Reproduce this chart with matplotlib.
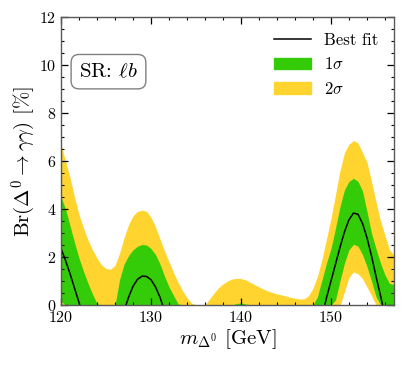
import numpy as np
import matplotlib
matplotlib.use("Agg")
import matplotlib.pyplot as plt
from matplotlib.ticker import MultipleLocator
from matplotlib.lines import Line2D
from matplotlib.patches import Patch

plt.rcParams.update({
    "font.family": "serif",
    "font.serif": ["cmr10", "DejaVu Serif"],
    "mathtext.fontset": "cm",
    "axes.unicode_minus": False,
    "axes.formatter.use_mathtext": True,
})

# mass grid (GeV)
mass = np.arange(120.0, 157.01, 0.5)

# upper 2 sigma
hi2 = [6.7, 6.0, 5.3, 4.5, 3.75, 3.2, 2.7, 2.3, 1.95, 1.67,
       1.52, 1.49, 1.65, 2.15, 2.8, 3.35, 3.72, 3.9, 3.95, 3.9,
       3.65, 3.25, 2.75, 2.25, 1.8, 1.35, 0.95, 0.6, 0.3, 0.08,
       0.0, 0.0, 0.0, 0.25, 0.5, 0.72, 0.88, 1.0, 1.08, 1.11,
       1.1, 1.05, 0.95, 0.85, 0.75, 0.66, 0.58, 0.52, 0.46, 0.42,
       0.37, 0.32, 0.28, 0.25, 0.26, 0.38, 0.7, 1.2, 1.9, 2.75,
       3.6, 4.6, 5.6, 6.35, 6.7, 6.85, 6.75, 6.35, 5.95, 5.15,
       4.3, 3.5, 2.9, 2.3, 2.08]
# lower 2 sigma
lo2 = [0.0] * 62 + [0.0, 0.55, 1.15, 1.38, 1.3, 1.1, 0.75, 0.4, 0.0,
                    0.0, 0.0, 0.0, 0.0]
# upper 1 sigma
hi1 = [4.5, 4.0, 3.3, 2.6, 1.95, 1.4, 0.9, 0.45, 0.05, 0.0,
       0.0, 0.0, 0.0, 1.05, 1.7, 2.05, 2.3, 2.45, 2.52, 2.5,
       2.35, 2.1, 1.7, 1.2, 0.75, 0.4, 0.05, 0.0, 0.0, 0.0,
       0.0, 0.0, 0.0, 0.0, 0.0, 0.0, 0.0, 0.0, 0.0, 0.06,
       0.09, 0.04, 0.0, 0.0, 0.0, 0.0, 0.0, 0.0, 0.0, 0.0,
       0.0, 0.0, 0.0, 0.0, 0.0, 0.0, 0.0, 0.35, 1.05, 1.74,
       2.35, 3.2, 4.1, 4.8, 5.15, 5.28, 5.15, 4.75, 3.9, 3.0,
       2.35, 1.75, 1.25, 0.9, 0.85]
# lower 1 sigma
lo1 = [0.15] + [0.0] * 60 + [0.2, 1.0, 1.75, 2.3, 2.53, 2.45, 2.1, 1.6, 1.0,
                             0.35, 0.0, 0.0, 0.0, 0.0]
# best fit (nan where far below the axis)
nan = np.nan
best = [2.35, 1.85, 1.3, 0.7, 0.1, -0.55, nan, nan, nan, nan,
        nan, nan, nan, nan, -0.25, 0.32, 0.78, 1.07, 1.2, 1.19,
        1.05, 0.75, 0.32, -0.25, nan, nan, nan, nan, nan, nan,
        nan, nan, nan, nan, nan, nan, nan, nan, nan, nan,
        nan, nan, nan, nan, nan, nan, nan, nan, nan, nan,
        nan, nan, nan, nan, nan, nan, nan, nan, -0.5, 0.3,
        1.0, 1.7, 2.4, 3.05, 3.55, 3.83, 3.78, 3.4, 2.8, 2.05,
        1.2, 0.4, -0.45, nan, nan]

yellow = "#ffd42e"
green = "#34cc08"

fig = plt.figure(figsize=(4.07, 3.66), dpi=100)
ax = fig.add_axes([0.150, 0.1667, 0.818, 0.787])

ax.fill_between(mass, lo2, hi2, color=yellow, lw=0)
ax.fill_between(mass, lo1, hi1, color=green, lw=0)
ax.plot(mass, best, color="black", lw=1.1)

ax.set_xlim(120, 157)
ax.set_ylim(0, 12)
ax.xaxis.set_major_locator(MultipleLocator(10))
ax.xaxis.set_minor_locator(MultipleLocator(2))
ax.yaxis.set_major_locator(MultipleLocator(2))
ax.yaxis.set_minor_locator(MultipleLocator(0.5))
ax.tick_params(which="both", direction="in", top=True, right=True,
               labelsize=11.5, color="black")
ax.tick_params(which="major", length=5, width=0.9)
ax.tick_params(which="minor", length=2.5, width=0.8)
for s in ax.spines.values():
    s.set_color("0.35")
    s.set_linewidth(1.0)

ax.set_xlabel(r"$m_{\Delta^0}$ [GeV]", fontsize=15, labelpad=2)
ax.set_ylabel(r"Br$(\Delta^0 \to \gamma\gamma)$ [%]", fontsize=15, labelpad=0.5)

ax.text(0.054, 0.81, r"SR: $\ell b$", transform=ax.transAxes, fontsize=15,
        va="center", ha="left",
        bbox=dict(boxstyle="round,pad=0.38", fc="white", ec="0.5", lw=1.0))

handles = [Line2D([], [], color="black", lw=1.1),
           Patch(facecolor=green, edgecolor=green),
           Patch(facecolor=yellow, edgecolor=yellow)]
ax.legend(handles, ["Best fit", r"$1\sigma$", r"$2\sigma$"], loc="upper right",
          frameon=False, fontsize=12, handlelength=2.2, labelspacing=0.5,
          borderaxespad=0.55)

fig.savefig("out.png", dpi=100)
